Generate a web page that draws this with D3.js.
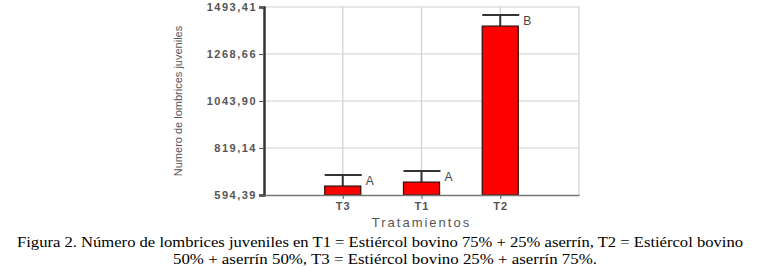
<!DOCTYPE html>
<html>
<head>
<meta charset="utf-8">
<script src="https://cdn.jsdelivr.net/npm/d3@7"></script>
<style>
  body { margin: 0; background: #fff; }
</style>
</head>
<body>
<div id="chart"></div>
<script>
// data
var categories = ["T3", "T1", "T2"];
var means = [637, 656, 1402];
var upper = [690, 709, 1455];
var letters = ["A", "A", "B"];
var yTicks = [594.39, 819.14, 1043.90, 1268.66, 1493.41];

var W = 766, H = 272;
var margin = {top: 7, left: 264, right: 187, bottom: 77};
var plotW = W - margin.left - margin.right,
    plotH = H - margin.top - margin.bottom;

var svg = d3.select("#chart")
    .append("svg")
    .attr("width", W)
    .attr("height", H);

var g = svg.append("g")
    .attr("transform", "translate(" + margin.left + "," + margin.top + ")");

var x = d3.scalePoint()
    .domain(categories)
    .range([0, plotW])
    .padding(1);

var y = d3.scaleLinear()
    .domain([594.39, 1493.41])
    .range([plotH, 0]);

var barW = 36;
var sans = "Liberation Sans, Arial, sans-serif";

// grid
g.selectAll(".hgrid")
    .data(yTicks.slice(1))
    .join("line")
    .attr("x1", 0).attr("x2", plotW)
    .attr("y1", d => y(d)).attr("y2", d => y(d))
    .attr("stroke", "#cfcfcf").attr("stroke-width", 1.2);

g.selectAll(".vgrid")
    .data(categories)
    .join("line")
    .attr("x1", d => x(d)).attr("x2", d => x(d))
    .attr("y1", 0).attr("y2", plotH)
    .attr("stroke", "#cfcfcf").attr("stroke-width", 1.2);

g.append("line")
    .attr("x1", plotW).attr("x2", plotW)
    .attr("y1", 0).attr("y2", plotH)
    .attr("stroke", "#cfcfcf").attr("stroke-width", 1.2);

// error bars
g.selectAll(".err")
    .data(categories)
    .join("line")
    .attr("x1", d => x(d)).attr("x2", d => x(d))
    .attr("y1", (d, i) => y(means[i])).attr("y2", (d, i) => y(upper[i]))
    .attr("stroke", "#333").attr("stroke-width", 2);

g.selectAll(".cap")
    .data(categories)
    .join("line")
    .attr("x1", d => x(d) - barW / 2).attr("x2", d => x(d) + barW / 2 + 1)
    .attr("y1", (d, i) => y(upper[i])).attr("y2", (d, i) => y(upper[i]))
    .attr("stroke", "#333").attr("stroke-width", 2);

// bars
g.selectAll("rect")
    .data(categories)
    .join("rect")
    .attr("x", d => x(d) - barW / 2)
    .attr("y", (d, i) => y(means[i]))
    .attr("width", barW)
    .attr("height", (d, i) => plotH - y(means[i]))
    .attr("fill", "#ff0000")
    .attr("stroke", "#3a1010")
    .attr("stroke-width", 1.3);

// letters
g.selectAll(".letter")
    .data(categories)
    .join("text")
    .attr("x", d => x(d) + barW / 2 + 5)
    .attr("y", (d, i) => y(upper[i]) + 10)
    .attr("font-family", sans)
    .attr("font-size", 12)
    .attr("letter-spacing", 1)
    .attr("fill", "#444")
    .text((d, i) => letters[i]);

// axes
var yAxis = g.append("g")
    .call(d3.axisLeft(y).tickValues(yTicks).tickSize(5)
        .tickFormat(d => d3.format(".2f")(d).replace(".", ",")));
yAxis.select(".domain").attr("stroke", "#333").attr("stroke-width", 2.5);
yAxis.selectAll(".tick line").attr("stroke", "#555");
yAxis.selectAll("text")
    .attr("x", -7)
    .attr("font-family", sans)
    .attr("font-size", 11)
    .attr("font-weight", "bold")
    .attr("letter-spacing", 1.5)
    .attr("fill", "#555");

var xAxis = g.append("g")
    .attr("transform", "translate(0," + plotH + ")")
    .call(d3.axisBottom(x).tickSize(4).tickSizeOuter(0));
xAxis.select(".domain").attr("stroke", "#777").attr("stroke-width", 1.3);
xAxis.selectAll(".tick line").attr("stroke", "#555");
xAxis.selectAll("text")
    .attr("font-family", sans)
    .attr("font-size", 11)
    .attr("font-weight", "bold")
    .attr("letter-spacing", 1)
    .attr("fill", "#555");

// axis titles
g.append("text")
    .attr("transform", "translate(" + (-82) + "," + (plotH / 2) + ") rotate(-90)")
    .attr("text-anchor", "middle")
    .attr("font-family", sans)
    .attr("font-size", 11)
    .attr("fill", "#555")
    .text("Numero de lombrices juveniles");

g.append("text")
    .attr("x", x("T1"))
    .attr("y", plotH + 32)
    .attr("text-anchor", "middle")
    .attr("font-family", sans)
    .attr("font-size", 13)
    .attr("letter-spacing", 2)
    .attr("fill", "#555")
    .text("Tratamientos");

// caption
var caption = [
  "Figura 2. Número de lombrices juveniles en T1 = Estiércol bovino 75% + 25% aserrín, T2 = Estiércol bovino",
  "50% + aserrín 50%, T3 = Estiércol bovino 25% + aserrín 75%."
];
var capX = [17, 173], capLen = [726, 424];
svg.selectAll(".cap-text")
    .data(caption)
    .join("text")
    .attr("x", (d, i) => capX[i])
    .attr("y", (d, i) => 247 + i * 17)
    .attr("textLength", (d, i) => capLen[i])
    .attr("lengthAdjust", "spacingAndGlyphs")
    .attr("font-family", "Liberation Serif, Times New Roman, serif")
    .attr("font-size", 15.5)
    .attr("fill", "#000")
    .text(d => d);
</script>
</body>
</html>
